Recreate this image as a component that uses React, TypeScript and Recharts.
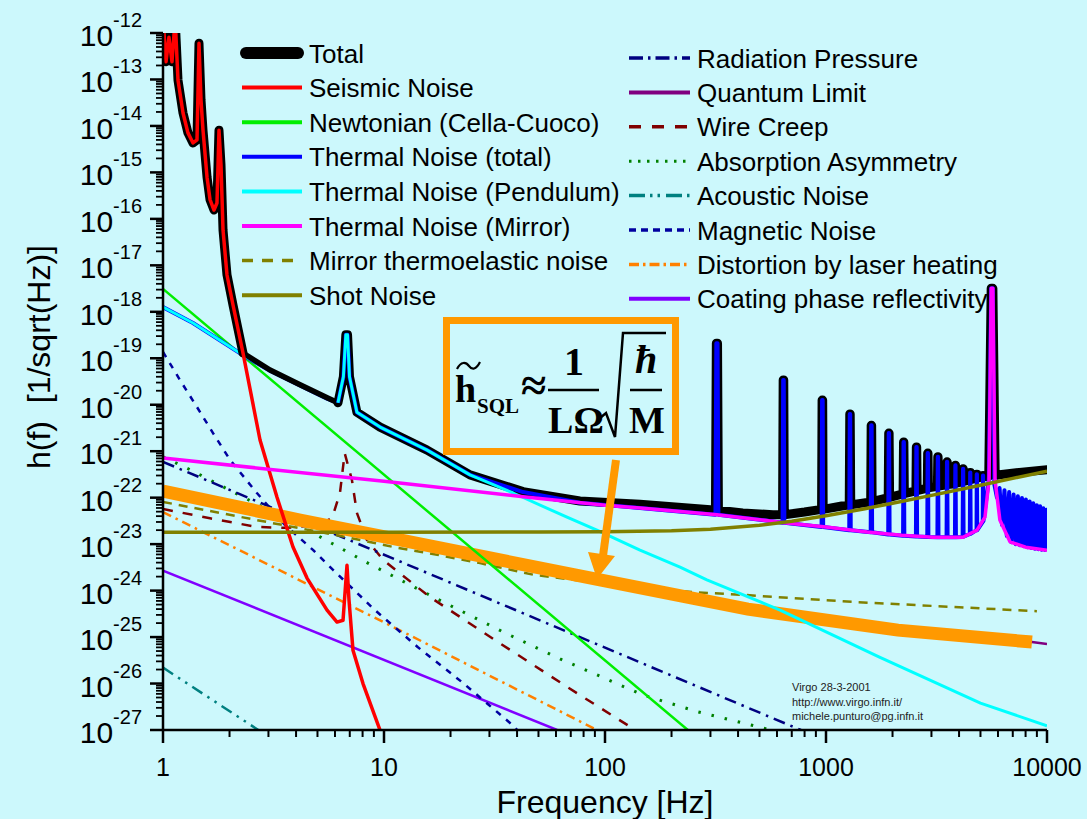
import React from "react";
import { ComposedChart, Line, XAxis, YAxis } from "recharts";

type Pt = [number, number];

const SANS = "'Liberation Sans', Arial, sans-serif";
const SERIF = "'Liberation Serif', 'Times New Roman', serif";

// axis ticks
const xDecades = [1, 10, 100, 1000, 10000];
const xTickLabels = ["1", "10", "100", "1000", "10000"];
const yExponents = [-27, -26, -25, -24, -23, -22, -21, -20, -19, -18, -17, -16, -15, -14, -13, -12];
const minorMult = [2, 3, 4, 5, 6, 7, 8, 9];

// series, [frequency Hz, h(f)]
const newtonian: Pt[] = [[1, 3.1e-18], [237, 1e-27]];
const acoustic: Pt[] = [[1, 2.2e-26], [2.7, 1e-27]];
const coating: Pt[] = [[1, 2.7e-24], [60.7, 1e-27]];
const distortion: Pt[] = [[1, 4.9e-23], [11.8, 1.4e-25], [92, 1e-27]];
const radiation: Pt[] = [[1, 5.9e-22], [770, 1e-27]];
const magnetic: Pt[] = [
  [1, 1.37e-19], [1.194, 3.4e-20], [1.425, 8.9e-21], [1.684, 2.46e-21], [2.01, 6.5e-22],
  [2.66, 1.26e-22], [3.56, 2.6e-23], [4.77, 7.5e-24], [5.88, 2.8e-24], [9.1, 3.8e-25],
  [14.2, 6.1e-26], [22.5, 1.08e-26], [39, 1.17e-27], [40, 1e-27],
];
const absorption: Pt[] = [
  [1, 7.6e-22], [1.325, 4.0e-22], [2.35, 9.8e-23], [4.77, 1.74e-23], [8.46, 3.9e-24],
  [17.4, 6.6e-25], [35.3, 1.23e-25], [62.6, 3.4e-26], [148, 5.7e-27], [264, 2.45e-27], [541, 1.05e-27], [560, 1e-27],
];
const wireCreep: Pt[] = [
  [1, 5.7e-23], [1.632, 3.6e-23], [2.66, 2.34e-23], [3.64, 2.24e-23], [5.0, 2.6e-23], [5.82, 3.6e-23],
  [6.32, 1.26e-22], [6.64, 9.1e-22], [7.16, 2.4e-22], [7.54, 4.7e-23], [8.37, 1.23e-23], [9.9, 4.6e-24],
  [16.1, 7.3e-25], [33.4, 7.4e-26], [67.3, 8.5e-27], [137, 1e-27],
];
const thermoelastic: Pt[] = [
  [1, 8.1e-23], [2.65, 3.3e-23], [6.8, 1.41e-23], [11, 8.7e-24], [17.4, 5.9e-24], [27.2, 3.9e-24],
  [47.3, 2.2e-24], [100, 1.4e-24], [250, 9.3e-25], [421, 8.1e-25], [1245, 5.8e-25], [9000, 3.6e-25],
];
const quantumLimit: Pt[] = [
  [1, 1.39e-22], [4.17, 3.3e-23], [11.8, 1.23e-23], [94.9, 1.7e-24], [443, 4.0e-25],
  [2117, 1.41e-25], [8550, 7.8e-26], [10000, 7.1e-26],
];
const shot: Pt[] = [
  [1, 1.8e-23], [10, 1.8e-23], [50, 1.82e-23], [100, 1.85e-23], [200, 1.95e-23], [300, 2.1e-23],
  [500, 2.55e-23], [700, 3.1e-23], [1000, 4.1e-23], [1500, 5.8e-23], [2000, 7.6e-23], [3000, 1.12e-22],
  [5000, 1.85e-22], [7000, 2.6e-22], [10000, 3.7e-22],
];
const seismic: Pt[] = [
  [1, 2e-12], [1.032, 2.4e-13], [1.064, 8.1e-13], [1.098, 2.4e-13], [1.135, 2e-12], [1.169, 9.7e-14],
  [1.232, 1.9e-14], [1.297, 7.1e-15], [1.367, 4.3e-15], [1.425, 5.0e-15], [1.455, 6.0e-13], [1.486, 3.6e-14],
  [1.517, 8.1e-15], [1.582, 7.9e-16], [1.632, 2.6e-16], [1.701, 1.55e-16], [1.755, 2.2e-16], [1.792, 8.1e-15],
  [1.83, 1.45e-15], [1.869, 5.7e-17], [1.948, 6.2e-18], [2.074, 1.4e-18], [2.301, 1.3e-19], [2.748, 1.74e-21],
  [3.28, 1.02e-22], [3.875, 8.7e-24], [4.483, 1.86e-24], [5.524, 3.8e-25], [6.13, 2.1e-25], [6.525, 2.3e-25],
  [6.8, 3.5e-24], [6.944, 6.3e-25], [7.239, 5.2e-26], [8.035, 1.0e-26], [9.59, 1e-27],
];
const pendulum: Pt[] = [
  [1, 1.26e-18], [1.367, 5.75e-19], [2.3, 1.17e-19], [3.05, 5.4e-20], [4.17, 2.6e-20], [5.53, 1.35e-20],
  [6.19, 1.1e-20], [6.55, 4e-20], [6.72, 3.2e-19], [6.84, 3.2e-19], [6.98, 4e-20], [7.54, 6.9e-21],
  [9.6, 3.3e-21], [15.6, 1.07e-21], [24.5, 3.1e-22], [38.4, 1.26e-22], [67.3, 3.8e-23], [91.9, 2.0e-23],
  [144, 7.4e-24], [218.6, 3.2e-24], [289, 1.7e-24], [620, 3.8e-25], [1745, 3.7e-26], [5000, 3.8e-27], [10000, 1.23e-27],
];
const mirror: Pt[] = [
  [1, 7.1e-22], [10, 2.25e-22], [42.6, 1.05e-22], [100, 6.9e-23], [144, 6.0e-23], [321, 4.3e-23],
  [646, 2.9e-23], [1000, 2.35e-23], [1535, 1.82e-23], [2200, 1.55e-23], [3050, 1.41e-23], [4168, 1.41e-23],
  [4823, 2.0e-23], [5240, 3.8e-23], [5465, 2.4e-22], [5590, 3.2e-18], [5690, 3.2e-18], [5820, 2.4e-22],
  [6120, 3.3e-23], [6800, 1.12e-23], [8000, 8.6e-24], [10000, 7.4e-24],
];
const thermalTotal: Pt[] = [
  [1, 1.26e-18], [1.367, 5.75e-19], [2.3, 1.17e-19], [3.05, 5.4e-20], [4.17, 2.6e-20], [5.53, 1.35e-20],
  [6.19, 1.1e-20], [6.55, 4e-20], [6.72, 3.2e-19], [6.84, 3.2e-19], [6.98, 4e-20], [7.54, 6.9e-21],
  [9.6, 3.3e-21], [15.6, 1.07e-21], [24.5, 3.1e-22], [42.6, 1.32e-22], [77, 7.8e-23], [144, 6.0e-23],
  [316, 4.3e-23], [319, 2.1e-19], [323, 2.1e-19], [326, 4.3e-23],
  [636, 2.9e-23], [640, 3.4e-20], [644, 3.4e-20], [648, 2.9e-23],
  [955, 2.35e-23], [960, 1.26e-20], [966, 1.26e-20], [971, 2.35e-23],
  [1274, 2.0e-23], [1281, 6.3e-21], [1287, 6.3e-21], [1294, 2.0e-23],
  [1593, 1.8e-23], [1601, 3.6e-21], [1609, 3.6e-21], [1617, 1.8e-23],
  [1912, 1.62e-23], [1922, 2.45e-21], [1930, 2.45e-21], [1940, 1.62e-23],
  [2232, 1.52e-23], [2243, 1.58e-21], [2251, 1.58e-21], [2262, 1.52e-23],
  [2552, 1.46e-23], [2563, 1.23e-21], [2573, 1.23e-21], [2584, 1.46e-23],
  [2872, 1.42e-23], [2884, 9.1e-22], [2894, 9.1e-22], [2906, 1.42e-23],
  [3192, 1.41e-23], [3205, 7.6e-22], [3215, 7.6e-22], [3228, 1.41e-23],
  [3512, 1.41e-23], [3526, 5.9e-22], [3536, 5.9e-22], [3550, 1.41e-23],
  [3832, 1.41e-23], [3847, 5.0e-22], [3857, 5.0e-22], [3872, 1.41e-23],
  [4152, 1.42e-23], [4168, 4.2e-22], [4178, 4.2e-22], [4194, 1.45e-23],
  [4475, 1.65e-23], [4489, 3.5e-22], [4499, 3.5e-22], [4515, 1.68e-23],
  [4800, 2.0e-23], [4810, 3.2e-22], [4820, 3.2e-22], [4835, 2.0e-23],
  [5120, 3.0e-23], [5131, 3.0e-22], [5141, 3.0e-22], [5155, 3.1e-23],
  [5440, 2.2e-22], [5457, 2.9e-22], [5590, 3.2e-18], [5690, 3.2e-18],
  [5778, 1.9e-22], [5938, 1.0e-22], [6099, 1.62e-22], [6260, 2.6e-23], [6420, 1.45e-22], [6580, 1.5e-23],
  [6741, 1.32e-22], [6900, 1.1e-23], [7062, 1.17e-22], [7220, 1.0e-23], [7383, 1.07e-22], [7540, 9.5e-24],
  [7704, 9.8e-23], [7860, 9.0e-24], [8025, 9.1e-23], [8180, 8.6e-24], [8346, 8.3e-23], [8500, 8.3e-24],
  [8667, 7.6e-23], [8820, 8.0e-24], [8988, 6.9e-23], [9140, 7.8e-24], [9309, 6.5e-23], [9460, 7.6e-24],
  [9630, 5.9e-23], [9790, 7.5e-24], [9951, 5.5e-23], [10000, 7.4e-24],
];
const totalMid: Pt[] = [[2.301, 1.3e-19], [3.05, 5.6e-20], [4.17, 2.7e-20], [5.53, 1.41e-20], [6.19, 1.1e-20]];
const totalHigh: Pt[] = [
  [6.19, 1.1e-20], [6.55, 4e-20], [6.72, 3.2e-19], [6.84, 3.2e-19], [6.98, 4e-20], [7.54, 6.9e-21],
  [9.6, 3.3e-21], [15.6, 1.07e-21], [24.5, 3.1e-22], [42.6, 1.35e-22], [77, 8.5e-23], [144, 7.2e-23], [300, 5.5e-23],
  [316, 5.5e-23], [319, 2.1e-19], [323, 2.1e-19], [326, 5.4e-23], [420, 4.7e-23], [575, 4.3e-23],
  [636, 4.3e-23], [640, 3.4e-20], [644, 3.4e-20], [648, 4.3e-23], [800, 4.9e-23],
  [955, 5.6e-23], [960, 1.26e-20], [966, 1.26e-20], [971, 5.6e-23], [1180, 6.6e-23],
  [1274, 7.0e-23], [1281, 6.3e-21], [1287, 6.3e-21], [1294, 7.0e-23],
  [1593, 8.1e-23], [1601, 3.6e-21], [1609, 3.6e-21], [1617, 8.2e-23],
  [1912, 1.0e-22], [1922, 2.45e-21], [1930, 2.45e-21], [1940, 1.02e-22],
  [2232, 1.2e-22], [2243, 1.58e-21], [2251, 1.58e-21], [2262, 1.22e-22],
  [2552, 1.4e-22], [2563, 1.23e-21], [2573, 1.23e-21], [2584, 1.42e-22],
  [2872, 1.6e-22], [2884, 9.1e-22], [2894, 9.1e-22], [2906, 1.62e-22],
  [3192, 1.75e-22], [3205, 7.6e-22], [3215, 7.6e-22], [3228, 1.77e-22],
  [3512, 1.9e-22], [3526, 5.9e-22], [3536, 5.9e-22], [3550, 1.92e-22],
  [3832, 2.0e-22], [3847, 5.0e-22], [3857, 5.0e-22], [3872, 2.05e-22],
  [4152, 2.2e-22], [4168, 4.2e-22], [4178, 4.2e-22], [4194, 2.25e-22],
  [4475, 2.4e-22], [4489, 3.5e-22], [4499, 3.5e-22], [4515, 2.45e-22],
  [4800, 2.6e-22], [4810, 3.2e-22], [4820, 3.2e-22], [4835, 2.65e-22],
  [5120, 2.8e-22], [5131, 3.0e-22], [5141, 3.0e-22], [5155, 2.8e-22],
  [5450, 2.9e-22], [5590, 3.2e-18], [5690, 3.2e-18], [5830, 3.0e-22],
  [6100, 3.1e-22], [7500, 3.5e-22], [10000, 4.0e-22],
];

// legend text
const legendLeftLabels = [
  "Total", "Seismic Noise", "Newtonian (Cella-Cuoco)", "Thermal Noise (total)",
  "Thermal Noise (Pendulum)", "Thermal Noise (Mirror)", "Mirror thermoelastic noise", "Shot Noise",
];
const legendRightLabels = [
  "Radiation Pressure", "Quantum Limit", "Wire Creep", "Absorption Asymmetry",
  "Acoustic Noise", "Magnetic Noise", "Distortion by laser heating", "Coating phase reflectivity",
];
const creditLines = ["Virgo 28-3-2001", "http://www.virgo.infn.it/", "michele.punturo@pg.infn.it"];

const pts = (a: Pt[]) => a.map(([f, h]) => ({ f, h }));
const below = (a: Pt[], f0: number) => a.filter(([f]) => f <= f0);
const above = (a: Pt[], f0: number) => a.filter(([f]) => f >= f0);

const xMinor = xDecades.slice(0, -1).flatMap((d) => minorMult.map((m) => m * d));
const xTicks = [...xDecades, ...xMinor].sort((a, b) => a - b);
const yMajor = yExponents.map((e) => Number(`1e${e}`));
const yMinor = yExponents.slice(0, -1).flatMap((e) => minorMult.map((m) => Number(`${m}e${e}`)));
const yTicks = [...yMajor, ...yMinor].sort((a, b) => a - b);

const legendLeftStyle = [
  { c: "#000000", w: 12, cap: "round" },
  { c: "#ff0000", w: 4 },
  { c: "#00ee00", w: 4 },
  { c: "#0000ff", w: 4 },
  { c: "#00ffff", w: 4 },
  { c: "#ff00ff", w: 4 },
  { c: "#808000", w: 3.5, d: "11 9" },
  { c: "#808000", w: 4 },
];
const legendRightStyle = [
  { c: "#000080", w: 3.5, d: "14 5 2.5 5" },
  { c: "#800080", w: 4 },
  { c: "#800000", w: 3.5, d: "12 11" },
  { c: "#008000", w: 3, d: "2.5 6.5" },
  { c: "#008080", w: 3.5, d: "16 5 2.5 5 2.5 6" },
  { c: "#0000a0", w: 3.5, d: "7 5" },
  { c: "#ff8000", w: 3.5, d: "10 4 2.5 4" },
  { c: "#8000ff", w: 4 },
];

const BottomTick = ({ x, y, payload }: any) => {
  const i = xDecades.indexOf(payload.value);
  return (
    <g>
      <line x1={x} x2={x} y1={y} y2={y + (i >= 0 ? 13 : 7)} stroke="#000" strokeWidth={i >= 0 ? 2.5 : 2} />
      {i >= 0 && (
        <text x={x} y={y + 46} textAnchor="middle" fontSize={25} fontFamily={SANS} fill="#000">
          {xTickLabels[i]}
        </text>
      )}
    </g>
  );
};

const TopTick = ({ x, y, payload }: any) => {
  const major = xDecades.includes(payload.value);
  return <line x1={x} x2={x} y1={y} y2={y - (major ? 15 : 8)} stroke="#000" strokeWidth={major ? 2.5 : 2} />;
};

const LeftTick = ({ x, y, payload }: any) => {
  const i = yMajor.indexOf(payload.value);
  return (
    <g>
      <line x1={x} x2={x - (i >= 0 ? 13 : 7)} y1={y} y2={y} stroke="#000" strokeWidth={i >= 0 ? 2.5 : 1.8} />
      {i >= 0 && (
        <text x={x - 21} y={y + 13} textAnchor="end" fontSize={30} fontFamily={SANS} fill="#000">
          10
          <tspan fontSize={20} dy={-19}>
            {String(yExponents[i])}
          </tspan>
        </text>
      )}
    </g>
  );
};

const RightTick = ({ x, y, payload }: any) => {
  const major = yMajor.includes(payload.value);
  return <line x1={x} x2={x + (major ? 15 : 8)} y1={y} y2={y} stroke="#000" strokeWidth={major ? 2.5 : 1.8} />;
};

const series = (data: Pt[], stroke: string, width: number, extra: any = {}) => (
  <Line
    xAxisId="b"
    yAxisId="l"
    data={pts(data)}
    dataKey="h"
    type="linear"
    stroke={stroke}
    strokeWidth={width}
    dot={false}
    activeDot={false}
    isAnimationActive={false}
    strokeLinejoin="round"
    {...extra}
  />
);

export default function App() {
  const axisLine = { stroke: "#000", strokeWidth: 2.5 };
  return (
    <div style={{ position: "absolute", left: 0, top: 0, width: 1087, height: 819, background: "#ccf8fc", fontFamily: SANS }}>
      <ComposedChart width={1087} height={819} margin={{ top: 33, right: 40, bottom: 0, left: 0 }}>
        <XAxis xAxisId="b" dataKey="f" type="number" scale="log" domain={[1, 10000]} allowDataOverflow
          ticks={xTicks} interval={0} height={89} tickLine={false} tickSize={0} tickMargin={0}
          axisLine={axisLine} tick={(p: any) => <BottomTick {...p} />} />
        <XAxis xAxisId="t" orientation="top" dataKey="f" type="number" scale="log" domain={[1, 10000]} allowDataOverflow
          ticks={xTicks} interval={0} height={0} tickLine={false} tickSize={0} tickMargin={0}
          axisLine={axisLine} tick={(p: any) => <TopTick {...p} />} />
        <YAxis yAxisId="l" type="number" scale="log" domain={[1e-27, 1e-12]} allowDataOverflow
          ticks={yTicks} interval={0} width={163} tickLine={false} tickSize={0} tickMargin={0}
          axisLine={axisLine} tick={(p: any) => <LeftTick {...p} />} />
        <YAxis yAxisId="r" orientation="right" type="number" scale="log" domain={[1e-27, 1e-12]} allowDataOverflow
          ticks={yTicks} interval={0} width={0} tickLine={false} tickSize={0} tickMargin={0}
          axisLine={axisLine} tick={(p: any) => <RightTick {...p} />} />

        {series(acoustic, "#008080", 2.5, { strokeDasharray: "12 6 2.5 6 2.5 6", name: "Acoustic Noise" })}
        {series(coating, "#8000ff", 2.5, { name: "Coating phase reflectivity" })}
        {series(distortion, "#ff8000", 2.5, { strokeDasharray: "9 5 2.5 5", name: "Distortion by laser heating" })}
        {series(magnetic, "#0000a0", 2.5, { strokeDasharray: "6 7", name: "Magnetic Noise" })}
        {series(absorption, "#008000", 3, { strokeDasharray: "2.5 11", name: "Absorption Asymmetry" })}
        {series(wireCreep, "#800000", 2.5, { strokeDasharray: "10 10", name: "Wire Creep" })}
        {series(radiation, "#000080", 2.5, { strokeDasharray: "12 6 2.5 6", name: "Radiation Pressure" })}
        {series(thermoelastic, "#808000", 2.5, { strokeDasharray: "9 7", name: "Mirror thermoelastic noise" })}
        {series(quantumLimit, "#800080", 2.5, { name: "Quantum Limit" })}
        {series(below(quantumLimit, 8550), "#ff9900", 13, { strokeLinejoin: "miter", name: "SQL" })}
        {series(newtonian, "#00ee00", 2.5, { name: "Newtonian (Cella-Cuoco)" })}
        {series(below(thermalTotal, 6.19), "#0000ff", 4, { name: "Thermal Noise (total) low" })}
        {series(below(pendulum, 6.19), "#00ffff", 3, { name: "Thermal Noise (Pendulum) low" })}

        {series(below(seismic, 2.301), "#000000", 9, { strokeLinecap: "round", name: "Total" })}
        {series(totalMid, "#000000", 5.5, { strokeLinecap: "round", name: "Total mid" })}
        {series(totalHigh, "#000000", 9, { strokeLinecap: "round", name: "Total high" })}

        {series(seismic, "#ff0000", 3.5, { name: "Seismic Noise" })}
        {series(above(thermalTotal, 6.19), "#0000ff", 4, { name: "Thermal Noise (total)" })}
        {series(above(pendulum, 6.19), "#00ffff", 3, { name: "Thermal Noise (Pendulum)" })}
        {series(mirror, "#ff00ff", 3.5, { name: "Thermal Noise (Mirror)" })}
        {series(shot, "#808000", 3.5, { name: "Shot Noise" })}
      </ComposedChart>

      <svg width={1087} height={819} style={{ position: "absolute", left: 0, top: 0, pointerEvents: "none" }}>
        {legendLeftLabels.map((label, i) => {
          const s: any = legendLeftStyle[i];
          const y = 53 + i * 34.6;
          return (
            <g key={label}>
              <line x1={s.cap ? 246 : 242} x2={s.cap ? 298 : 302} y1={y} y2={y} stroke={s.c} strokeWidth={s.w}
                strokeDasharray={s.d} strokeLinecap={s.cap || "butt"} />
              <text x={309} y={y + 9.5} fontSize={26} fontFamily={SANS} fill="#000">{label}</text>
            </g>
          );
        })}
        {legendRightLabels.map((label, i) => {
          const s: any = legendRightStyle[i];
          const y = 58 + i * 34.4;
          return (
            <g key={label}>
              <line x1={629} x2={690} y1={y} y2={y} stroke={s.c} strokeWidth={s.w} strokeDasharray={s.d} />
              <text x={697} y={y + 9.5} fontSize={26} fontFamily={SANS} fill="#000">{label}</text>
            </g>
          );
        })}

        {/* SQL formula box */}
        <rect x={446.5} y={320.5} width={229} height={131} fill="none" stroke="#ff9900" strokeWidth={7} />
        <text x={455} y={402} fontSize={38} fontWeight="bold" fontFamily={SERIF} fill="#000">h</text>
        <path d="M457 369 C 461 361, 466 362, 469 366 S 476 370, 480 362" fill="none" stroke="#000" strokeWidth={2.2} />
        <text x={477} y={413} fontSize={21} fontWeight="bold" fontFamily={SERIF} fill="#000">SQL</text>
        <text x={521} y={401} fontSize={46} fontWeight="bold" fontFamily={SERIF} fill="#000">≈</text>
        <text x={574} y={375} textAnchor="middle" fontSize={40} fontWeight="bold" fontFamily={SERIF} fill="#000">1</text>
        <line x1={548} x2={599} y1={390} y2={390} stroke="#000" strokeWidth={2.5} />
        <text x={576} y={433} textAnchor="middle" fontSize={38} fontWeight="bold" fontFamily={SERIF} fill="#000">LΩ</text>
        <path d="M600 418 L606 413 L615 437 L623 333 L666 333" fill="none" stroke="#000" strokeWidth={2.5} />
        <text x={646} y={373} textAnchor="middle" fontSize={40} fontStyle="italic" fontWeight="bold" fontFamily={SERIF} fill="#000">ħ</text>
        <line x1={630} x2={662} y1={390} y2={390} stroke="#000" strokeWidth={2.5} />
        <text x={647} y={433} textAnchor="middle" fontSize={38} fontWeight="bold" fontFamily={SERIF} fill="#000">M</text>

        {/* arrow */}
        <line x1={616} y1={460} x2={603} y2={556} stroke="#ff9900" strokeWidth={8} />
        <polygon points="588,552 615,556 597,579" fill="#ff9900" />

        {creditLines.map((t, i) => (
          <text key={t} x={792} y={691 + i * 14.5} fontSize={11} fontFamily={SANS} fill="#222">{t}</text>
        ))}

        <text x={605} y={813} textAnchor="middle" fontSize={32} fontFamily={SANS} fill="#000">Frequency [Hz]</text>
        <text transform="translate(50,357) rotate(-90)" textAnchor="middle" fontSize={32} fontFamily={SANS} fill="#000">
          {"h(f)\u00a0\u00a0[1/sqrt(Hz)]"}
        </text>
      </svg>
    </div>
  );
}
